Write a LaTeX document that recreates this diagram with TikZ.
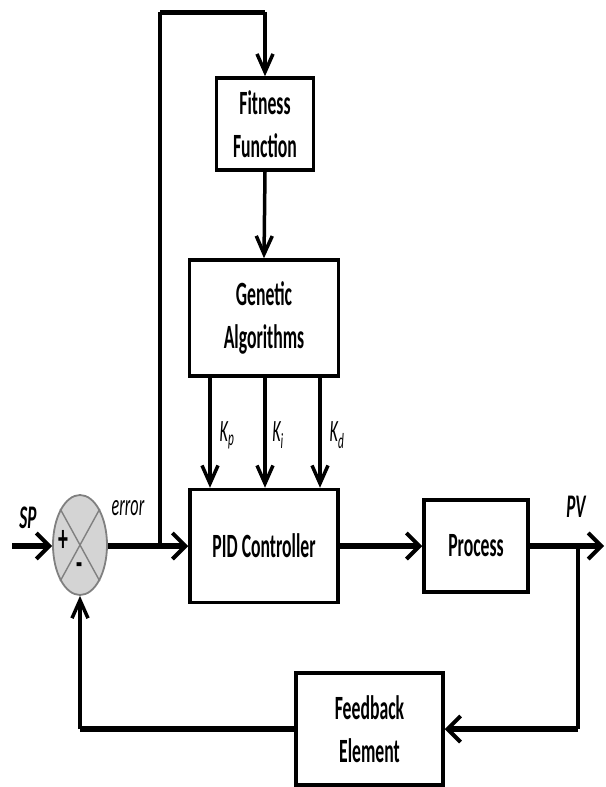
\documentclass[tikz,border=0pt]{standalone}
\usepackage{fontspec}
\setmainfont{Carlito}[FakeStretch=0.52]
\usetikzlibrary{arrows.meta,shapes.geometric}
\tikzset{
  harr/.tip={Straight Barb[length=13pt,width=26pt,line width=4pt]},
  varr/.tip={Straight Barb[length=18pt,width=16pt,line width=3.5pt]},
}
\begin{document}
\begin{tikzpicture}[x=1pt,y=-1pt,
  box/.style={draw, line width=3.5pt, inner sep=0pt, align=center,
    font=\fontsize{34}{43}\selectfont\bfseries},
  hline/.style={line width=6pt},
  vline/.style={line width=3.5pt},
  lab/.style={inner sep=0pt, font=\fontsize{33}{36}\selectfont\bfseries\itshape},
  klab/.style={inner sep=0pt, font=\fontsize{31}{34}\selectfont\itshape},
  sign/.style={inner sep=0pt, font=\fontsize{38}{40}\selectfont\bfseries},
  sumj/.style={ellipse, draw=black!50, fill=black!17, line width=1.8pt,
    minimum width=54pt, minimum height=100pt, inner sep=0pt},
  cross/.style={draw=black!50, line width=1.4pt}
]
\useasboundingbox (0,0) rectangle (605,787);

% blocks
\node[box, minimum width=97pt, minimum height=92pt] (fit) at (265,124) {Fitness\\Function};
\node[box, minimum width=149pt, minimum height=116pt] (gen) at (264,318) {Genetic\\Algorithms};
\node[box, minimum width=148pt, minimum height=113pt] (pid) at (264,546) {PID Controller};
\node[box, minimum width=104pt, minimum height=92pt] (proc) at (476,546) {Process};
\node[box, minimum width=147pt, minimum height=112pt] (fb) at (369.5,729) {Feedback\\Element};

% summing junction
\node[sumj] (sum) at (80,545) {};
\draw[cross] (sum.north west) -- (sum.south east);
\draw[cross] (sum.north east) -- (sum.south west);
\node[sign] (lplus) at (63,541) {+};
\node[sign] (lminus) at (80,569) {-};

% coordinates
\coordinate (in) at (12,546);
\coordinate (j1) at (160,546);
\coordinate (t1) at (160,12);
\coordinate (t2) at (265,12);
\coordinate (out) at (604,546);
\coordinate (b1) at (578,546);
\coordinate (b2) at (578,729);
\coordinate (b3) at (80,729);
\coordinate (kp) at (210,0);
\coordinate (ki) at (265,0);
\coordinate (kd) at (320,0);

% main path
\draw[hline,-{harr}] (in) -- (in -| sum.west);
\draw[hline,-{harr}] (sum.east |- j1) -- (pid.west);
\draw[hline,-{harr}] (pid.east) -- (proc.west);
\draw[hline,-{harr}] (proc.east) -- (out);

% error to fitness
\draw[vline] (j1) -- (t1);
\draw[line width=5pt] (t1) -- (t2);
\draw[vline,-{varr}] (t2) -- (fit.north);
\draw[vline,-{varr}] (fit.south) -- (gen.north);

% gains
\draw[vline,-{varr}] (gen.south -| kp) -- (pid.north -| kp);
\draw[vline,-{varr}] (gen.south -| ki) -- (pid.north -| ki);
\draw[vline,-{varr}] (gen.south -| kd) -- (pid.north -| kd);

% feedback
\draw[vline] (b1) -- (b2);
\draw[hline,-{harr}] (b2) -- (fb.east);
\draw[hline] (fb.west) -- (b3);
\draw[vline,-{varr}] (b3) -- (sum.south);

% labels
\node[lab] (lsp) at (28,518) {SP};
\node[klab] (lerr) at (128,508) {error};
\node[lab] (lpv) at (576,507) {PV};
\node[klab] (lkp) at (227,435) {K\textsubscript{p}};
\node[klab] (lki) at (278,435) {K\textsubscript{i}};
\node[klab] (lkd) at (337,435) {K\textsubscript{d}};
\end{tikzpicture}
\end{document}
